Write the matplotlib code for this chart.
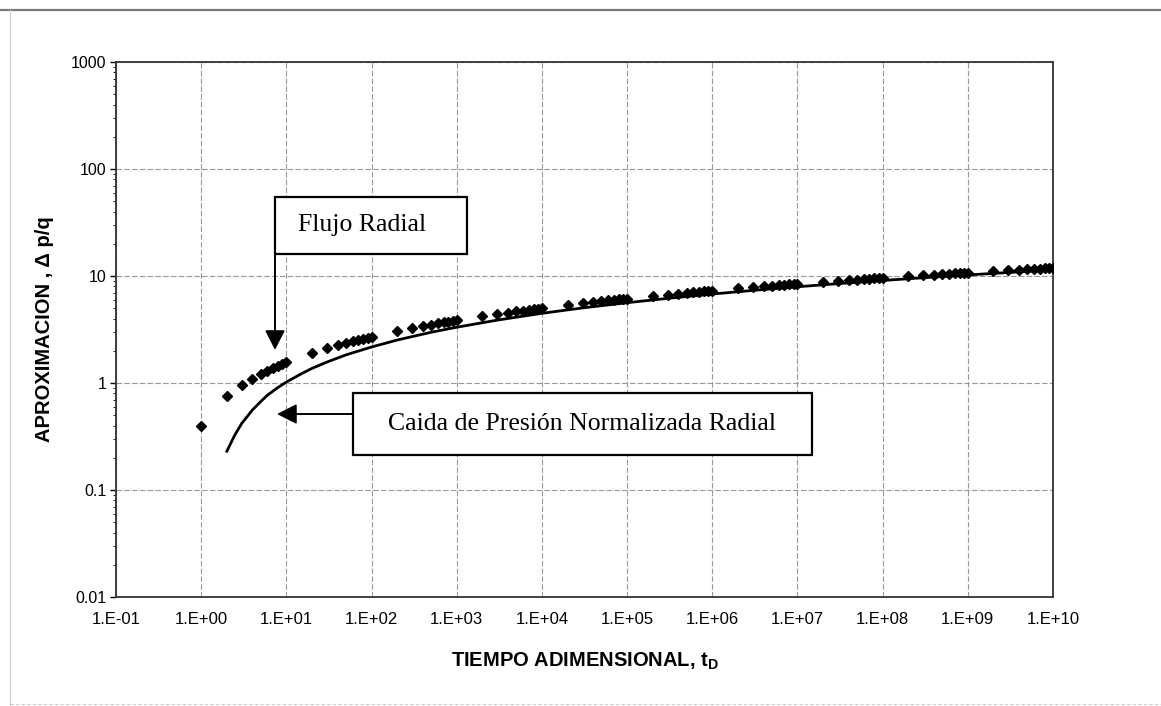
"""
plot.py
Aproximacion logaritmica (puntos) vs caida de presion normalizada radial (linea)
en papel log-log, tiempo adimensional de 1E-01 a 1E+10.
"""

import matplotlib
matplotlib.use("Agg")
import matplotlib.pyplot as plt
import matplotlib.ticker as mticker
from matplotlib.patches import Rectangle
from matplotlib.lines import Line2D

# ─────────────────────────────────────────────────────────────────────────────
# DATA
# ─────────────────────────────────────────────────────────────────────────────

# diamonds: approximation, 9 points per decade
TD_PTS = [1, 2, 3, 4, 5, 6, 7, 8, 9,
          1e1, 2e1, 3e1, 4e1, 5e1, 6e1, 7e1, 8e1, 9e1,
          1e2, 2e2, 3e2, 4e2, 5e2, 6e2, 7e2, 8e2, 9e2,
          1e3, 2e3, 3e3, 4e3, 5e3, 6e3, 7e3, 8e3, 9e3,
          1e4, 2e4, 3e4, 4e4, 5e4, 6e4, 7e4, 8e4, 9e4,
          1e5, 2e5, 3e5, 4e5, 5e5, 6e5, 7e5, 8e5, 9e5,
          1e6, 2e6, 3e6, 4e6, 5e6, 6e6, 7e6, 8e6, 9e6,
          1e7, 2e7, 3e7, 4e7, 5e7, 6e7, 7e7, 8e7, 9e7,
          1e8, 2e8, 3e8, 4e8, 5e8, 6e8, 7e8, 8e8, 9e8,
          1e9, 2e9, 3e9, 4e9, 5e9, 6e9, 7e9, 8e9, 9e9,
          1e10]
DP_PTS = [0.40, 0.75, 0.95, 1.10, 1.21, 1.30, 1.38, 1.44, 1.50,
          1.56, 1.90, 2.11, 2.25, 2.36, 2.45, 2.53, 2.60, 2.65,
          2.71, 3.05, 3.26, 3.40, 3.51, 3.60, 3.68, 3.75, 3.81,
          3.86, 4.20, 4.41, 4.55, 4.66, 4.75, 4.83, 4.90, 4.96,
          5.01, 5.36, 5.56, 5.70, 5.81, 5.91, 5.98, 6.05, 6.11,
          6.16, 6.51, 6.71, 6.85, 6.97, 7.06, 7.13, 7.20, 7.26,
          7.31, 7.66, 7.86, 8.01, 8.12, 8.21, 8.29, 8.35, 8.41,
          8.46, 8.81, 9.01, 9.16, 9.27, 9.36, 9.44, 9.50, 9.56,
          9.61, 9.96, 10.16, 10.31, 10.42, 10.51, 10.59, 10.65, 10.71,
          10.77, 11.11, 11.32, 11.46, 11.57, 11.66, 11.74, 11.81, 11.86,
          11.91]

# solid curve: normalized radial pressure drop
TD_LINE = [2, 2.5, 3, 4, 5, 6, 8, 10, 15, 20, 30, 50, 1e2, 2e2, 5e2,
           1e3, 3e3, 1e4, 3e4, 1e5, 3e5, 1e6, 3e6, 1e7, 3e7, 1e8, 3e8,
           1e9, 3e9, 1e10]
DP_LINE = [0.23, 0.33, 0.42, 0.56, 0.67, 0.77, 0.91, 1.02, 1.22, 1.37,
           1.57, 1.83, 2.17, 2.52, 2.98, 3.32, 3.87, 4.48, 5.03, 5.63,
           6.18, 6.78, 7.33, 7.93, 8.48, 9.08, 9.63, 10.23, 10.78, 11.38]

X_TICKS = [1e-1, 1e0, 1e1, 1e2, 1e3, 1e4, 1e5, 1e6, 1e7, 1e8, 1e9, 1e10]
X_TICK_LABELS = ["1.E-01", "1.E+00", "1.E+01", "1.E+02", "1.E+03", "1.E+04",
                 "1.E+05", "1.E+06", "1.E+07", "1.E+08", "1.E+09", "1.E+10"]
Y_TICKS = [0.01, 0.1, 1, 10, 100, 1000]
Y_TICK_LABELS = ["0.01", "0.1", "1", "10", "100", "1000"]

SANS = "Liberation Sans"
SERIF = "Liberation Serif"

plt.rcParams["font.family"] = [SANS, "DejaVu Sans"]
plt.rcParams["mathtext.fontset"] = "custom"
plt.rcParams["mathtext.rm"] = SANS
plt.rcParams["mathtext.bf"] = SANS + ":bold"


def callout(ax, x0, y0, x1, y1, label, dx=0.0):
    """White box with serif text, in axes-fraction coordinates."""
    ax.add_patch(Rectangle((x0, y0), x1 - x0, y1 - y0, transform=ax.transAxes,
                           facecolor="white", edgecolor="black", lw=1.6, zorder=5))
    ax.text((x0 + x1) / 2 + dx, (y0 + y1) / 2, label, transform=ax.transAxes,
            ha="center", va="center", fontsize=18.5, family=SERIF, zorder=6)


def arrow(ax, start, tip):
    ax.annotate("", xy=tip, xytext=start, xycoords="axes fraction",
                textcoords="axes fraction", zorder=6,
                arrowprops=dict(arrowstyle="-|>,head_length=0.75,head_width=0.38",
                                mutation_scale=16, color="black", lw=1.4,
                                shrinkA=0, shrinkB=0))


def main():
    fig = plt.figure(figsize=(11.61, 7.06), dpi=100)
    ax = fig.add_axes([0.0999, 0.1544, 0.8071, 0.7578])

    ax.plot(TD_LINE, DP_LINE, color="black", lw=2.0, zorder=3)
    ax.plot(TD_PTS, DP_PTS, linestyle="none", marker="D", ms=5.5,
            color="black", zorder=4)

    ax.set_xscale("log")
    ax.set_yscale("log")
    ax.set_xlim(X_TICKS[0], X_TICKS[-1])
    ax.set_ylim(Y_TICKS[0], Y_TICKS[-1])

    ax.xaxis.set_major_locator(mticker.FixedLocator(X_TICKS))
    ax.xaxis.set_major_formatter(mticker.FixedFormatter(X_TICK_LABELS))
    ax.xaxis.set_minor_locator(mticker.NullLocator())
    ax.yaxis.set_major_locator(mticker.FixedLocator(Y_TICKS))
    ax.yaxis.set_major_formatter(mticker.FixedFormatter(Y_TICK_LABELS))
    ax.yaxis.set_minor_locator(mticker.LogLocator(base=10, subs=range(2, 10)))
    ax.yaxis.set_minor_formatter(mticker.NullFormatter())

    ax.tick_params(axis="x", which="major", length=0, pad=11, labelsize=12)
    ax.tick_params(axis="y", which="major", length=4, width=1, pad=3, labelsize=11.5)
    ax.tick_params(axis="y", which="minor", length=2, width=0.6)

    ax.grid(True, which="major", color="#999999", lw=0.8, linestyle=(0, (5, 2)))
    for sp in ax.spines.values():
        sp.set_color("#333333")
        sp.set_linewidth(1.3)

    ax.set_xlabel(r"TIEMPO ADIMENSIONAL, t$_{\mathbf{D}}$", fontsize=14.5,
                  fontweight="bold", labelpad=17)
    ax.set_ylabel("APROXIMACION , \u0394 p/q", fontsize=14.5, fontweight="bold",
                  labelpad=12)

    # annotations
    callout(ax, 0.1697, 0.6411, 0.3746, 0.7477, "Flujo Radial", dx=-0.01)
    arrow(ax, (0.1697, 0.6411), (0.1697, 0.4617))
    callout(ax, 0.2529, 0.2654, 0.7428, 0.3822,
            "Caida de Presi\u00f3n Normalizada Radial")
    arrow(ax, (0.2529, 0.342), (0.1718, 0.342))

    # scanned-page frame lines
    fig.add_artist(Line2D([0, 1], [0.9858, 0.9858], transform=fig.transFigure,
                          color="#7a7a7a", lw=1.6))
    fig.add_artist(Line2D([0.0086, 0.0086], [0.0, 0.9858], transform=fig.transFigure,
                          color="#d0d0d0", lw=0.8))
    fig.add_artist(Line2D([0.0086, 1], [0.003, 0.003], transform=fig.transFigure,
                          color="#cccccc", lw=0.8, linestyle=(0, (3, 2))))

    fig.savefig("out.png", dpi=100)
    plt.close(fig)


if __name__ == "__main__":
    main()
